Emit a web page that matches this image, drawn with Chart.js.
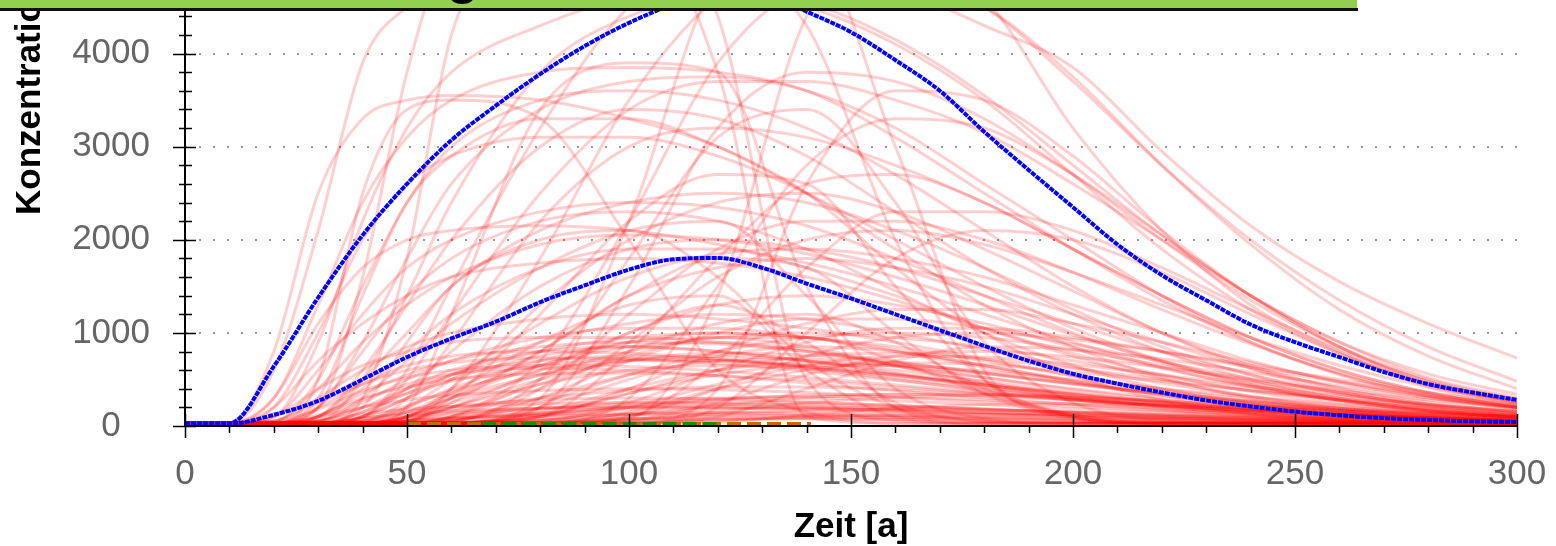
<!DOCTYPE html>
<html>
<head>
<meta charset="utf-8">
<script src="https://cdn.jsdelivr.net/npm/chart.js@4.4.1/dist/chart.umd.min.js"></script>
<style>
  html, body { margin: 0; padding: 0; background: #fff; }
  canvas { display: block; }
</style>
</head>
<body>
<canvas id="chart" width="1556" height="546"></canvas>
<script>
// time grid of the realizations (years)
const redYears = [0, 10, 20, 30, 40, 50, 60, 80, 100, 120, 140, 160, 180, 200, 220, 240, 260, 280, 300];

// time grid of the two statistic curves (years)
const blueYears = [0, 10, 20, 30, 40, 50, 60, 70, 80, 90, 100, 110, 120, 130, 140, 150,
                   160, 170, 180, 190, 200, 210, 220, 230, 240, 250, 260, 270, 280, 290, 300];

// labelled y ticks
const yTickValues = [0, 1000, 2000, 3000, 4000];

// single realizations (concentration)
const realizations = [
  [30,30,600,2100,3900,4500,4750,4900,4950,4950,4900,4700,4300,3850,2950,2150,1550,1100,730],
  [30,30,30,200,1600,3800,5200,5700,5600,3800,100,30,30,30,30,30,30,30,30],
  [30,30,30,30,300,1800,4200,5500,5800,4400,500,60,30,30,30,30,30,30,30],
  [30,30,30,30,30,30,30,30,80,1400,4400,5200,4600,3200,2100,1300,800,420,210],
  [30,30,30,30,30,50,400,1800,3500,4600,5000,4900,4500,3700,2800,2000,1350,850,480],
  [30,30,30,30,30,30,100,700,2200,3900,4700,4800,4500,3750,2800,1950,1250,750,400],
  [30,30,100,900,2200,3200,3800,4300,4600,4700,4550,4150,3550,2800,2050,1400,900,560,340],
  [30,30,30,30,30,30,30,300,2200,4800,5200,3000,600,100,30,30,30,30,30],
  [30,30,30,30,100,600,1500,3200,4500,5000,4300,2000,500,100,30,30,30,30,30],
  [30,30,30,50,500,1400,2400,3800,4400,4600,4500,4100,3500,2700,1900,1250,780,450,260],

  [30,30,300,1300,2400,3100,3500,3800,3850,3800,3600,3100,2500,1900,1350,900,560,330,190],
  [30,30,30,200,900,1800,2600,3400,3700,3750,3600,3200,2600,2000,1400,900,550,320,180],
  [30,30,30,30,100,500,1200,2500,3400,3700,3700,3500,3150,2600,2000,1400,900,520,300],
  [30,30,30,30,30,200,1200,3400,3900,3800,1500,200,30,30,30,30,30,30,30],
  [30,30,50,500,1500,2400,3000,3500,3600,3500,3200,2700,2100,1500,1000,620,370,210,120],
  [30,30,30,30,30,30,30,200,1500,3200,3800,3700,3300,2700,2000,1350,850,500,280],
  [30,30,30,30,30,30,30,30,30,400,2600,3600,3500,2900,2100,1400,850,450,230],
  [30,30,800,2500,3300,3500,3550,3500,3300,3000,2500,1900,1300,850,520,300,170,90,50],
  [30,30,30,100,600,1300,2000,3000,3400,3300,2900,2300,1700,1200,800,500,300,170,90],
  [30,30,30,30,30,30,50,500,1800,3100,3400,2400,900,250,60,30,30,30,30],
  [30,30,200,1000,2000,2600,2900,3100,3100,2900,2500,2000,1500,1050,700,450,280,160,90],
  [30,30,30,30,50,300,900,2200,3000,3200,3100,2800,2400,1900,1400,950,600,360,200],
  [30,30,30,500,2500,3400,3500,3300,2000,600,150,30,30,30,30,30,30,30,30],
  [30,30,30,30,30,30,30,30,300,1500,2800,3300,3200,2700,2050,1400,850,480,250],
  [30,30,30,300,1400,2400,2900,3300,3300,3000,2500,1700,1000,550,280,130,60,30,30],

  [30,30,100,600,1200,1700,2000,2300,2400,2350,2150,1800,1400,1000,680,440,270,160,90],
  [30,30,30,100,500,1000,1500,2100,2400,2500,2400,2100,1700,1250,850,550,340,200,110],
  [30,30,30,30,30,100,400,1300,2000,2400,2500,2300,1900,1450,1000,650,400,230,130],
  [30,30,300,1100,1700,2000,2100,2150,2100,1950,1700,1400,1050,750,500,320,190,110,60],
  [30,30,30,30,30,30,30,100,800,1800,2600,2700,2400,1900,1400,950,600,360,200],
  [30,30,30,50,300,700,1100,1700,2100,2200,1400,400,80,30,30,30,30,30,30],
  [30,30,30,30,30,50,300,1200,2200,2700,2600,1500,500,100,30,30,30,30,30],
  [30,30,50,400,900,1300,1600,1950,2050,2000,1850,1600,1300,980,700,470,300,180,100],
  [30,30,30,30,100,400,800,1500,1900,2000,1900,1700,1400,1100,800,550,360,220,130],
  [30,30,30,30,30,30,50,400,1200,1900,2200,2200,2000,1650,1250,880,570,350,200],
  [30,30,30,200,800,1400,1800,2200,2300,2200,1900,1450,1000,650,400,240,140,80,40],
  [30,30,30,30,30,30,30,30,100,700,1700,2300,2300,2100,1700,1250,820,480,270],
  [30,30,30,30,50,200,500,1100,1600,1850,1900,1800,1600,1300,1000,700,470,300,180],
  [30,30,200,700,1100,1400,1600,1750,1800,1750,1600,1350,1050,780,550,370,240,150,90],
  [30,30,30,30,30,100,300,800,1400,1800,1700,1000,350,80,30,30,30,30,30],
  [30,30,30,30,30,30,30,200,900,1600,2000,2100,1950,1650,1300,950,650,420,260],
  [30,30,30,100,400,800,1200,1700,1900,1900,1750,1500,1200,900,630,420,270,160,90],
  [30,30,30,30,30,30,30,30,30,200,1000,1800,2100,2000,1650,1200,780,450,240],
  [30,30,30,30,200,900,1500,2000,2100,1600,700,200,50,30,30,30,30,30,30],
  [30,30,30,30,30,50,250,800,1400,1700,1800,1700,1500,1200,900,620,410,260,150],
  [30,30,30,30,30,100,350,900,1300,1400,600,100,30,30,30,30,30,30,30],
  [30,30,30,30,30,30,100,500,1000,1300,900,250,50,30,30,30,30,30,30],

  [30,30,50,300,600,850,1000,1150,1200,1150,1050,900,720,540,380,260,170,100,60],
  [30,30,30,30,100,300,550,900,1100,1200,1150,1000,820,630,460,320,210,130,80],
  [30,30,30,30,30,30,50,300,700,1000,1150,1150,1050,880,690,510,360,240,150],
  [30,30,30,50,250,500,700,950,1050,1050,950,800,630,470,330,220,140,85,50],
  [30,30,30,30,30,50,200,600,1000,1300,1400,1300,1100,850,620,430,280,170,100],
  [30,30,100,400,650,800,900,950,950,900,800,660,520,390,280,190,120,75,45],
  [30,30,30,30,30,30,30,100,400,800,1100,1250,1250,1100,900,680,480,320,200],
  [30,30,30,30,50,200,400,700,900,950,850,650,450,290,180,110,60,35,30],
  [30,30,30,30,30,30,100,400,800,1100,1200,900,400,120,30,30,30,30,30],
  [30,30,30,100,350,550,700,850,900,880,800,690,570,450,340,250,170,110,70],
  [30,30,30,30,30,100,250,550,800,950,1000,950,850,700,540,400,280,190,120],
  [30,30,30,30,30,30,30,50,250,600,900,1050,1050,950,800,630,470,330,220],
  [30,30,30,200,450,650,750,800,780,720,630,520,410,310,225,160,110,70,45],
  [30,30,30,30,30,30,30,200,500,750,850,800,650,480,330,220,140,85,50],
  [30,30,30,30,100,300,500,750,850,800,700,560,420,300,210,140,90,55,30],
  [30,30,30,30,30,30,30,30,100,400,750,950,1000,930,800,650,500,360,230],
  [30,30,30,50,200,400,550,700,750,720,650,550,440,340,250,180,120,80,50],
  [30,30,30,30,30,50,150,450,750,950,950,700,350,120,30,30,30,30,30],
  [30,30,30,30,30,30,30,100,350,600,750,780,720,620,500,380,280,190,120],
  [30,30,50,250,450,600,680,730,720,670,590,490,390,300,220,150,100,65,40],
  [30,30,30,30,50,150,300,550,700,750,700,600,480,360,260,180,120,75,45],
  [30,30,30,30,30,30,30,30,30,100,400,700,850,820,720,580,430,300,200],
  [30,30,30,30,30,100,300,650,900,1000,950,820,650,490,350,240,160,100,60],
  [30,30,30,30,30,30,50,250,550,800,950,1000,950,820,650,480,340,230,150],
  [30,30,30,30,150,350,550,800,950,1000,950,850,700,540,400,280,190,120,75],
  [30,30,30,60,200,350,480,650,720,700,640,550,450,350,260,190,135,95,65],
  [30,30,30,30,30,80,200,450,600,650,620,540,440,340,250,180,125,85,55],
  [30,30,30,30,30,30,30,150,400,600,680,650,560,450,350,260,190,135,95],
  [30,30,30,120,300,420,500,560,570,540,490,420,350,280,215,160,118,85,60],
  [30,30,30,30,80,220,380,600,700,700,620,500,380,280,200,140,95,65,45],
  [30,30,30,30,30,30,80,300,550,700,720,640,520,400,300,220,155,108,75],
  [30,30,30,30,30,30,30,30,150,400,600,680,660,580,480,380,290,215,155],
  [30,30,40,180,380,520,600,650,640,590,520,440,360,285,220,165,122,88,62],
  [30,30,30,30,30,150,350,650,850,900,820,650,470,320,210,135,85,55,35],
  [30,30,30,30,30,30,30,120,350,550,650,650,590,500,400,310,230,165,115],
  [30,30,30,30,150,400,600,800,850,800,700,570,440,330,240,170,120,80,55],
  [30,30,30,30,30,30,30,60,200,450,650,750,740,660,550,430,320,230,160],
  [30,30,30,30,30,70,200,500,700,780,760,680,570,460,360,270,200,145,100],
  [30,30,30,30,30,30,30,30,60,250,550,750,800,740,630,500,380,280,200],
  [30,30,30,90,280,450,560,620,600,540,460,380,300,230,170,125,90,64,45],

  [30,30,30,100,200,280,330,380,400,390,360,310,260,210,160,120,85,60,40],
  [30,30,30,30,30,100,180,300,380,420,420,390,340,280,220,170,125,90,60],
  [30,30,30,30,30,30,30,100,200,280,330,340,320,280,230,180,135,100,70],
  [30,30,30,30,80,150,210,280,300,290,260,220,180,140,105,75,55,38,30],
  [30,30,30,30,30,30,80,180,260,300,300,270,230,185,145,110,80,58,40],
  [30,30,30,60,130,180,210,240,250,240,215,185,150,120,90,68,50,35,30],
  [30,30,30,30,30,30,30,30,120,220,300,340,340,310,265,215,170,130,95],
  [30,30,30,30,30,60,110,190,240,260,250,220,185,150,115,88,65,47,33],
  [30,30,30,30,30,30,30,120,220,290,320,310,280,235,190,150,112,82,58],
  [30,30,30,30,50,100,140,190,210,210,195,170,140,112,87,65,48,35,30],
  [30,30,30,30,30,30,60,140,200,230,230,210,180,145,112,85,62,45,32],
  [30,30,30,30,30,30,30,30,50,150,250,310,330,310,270,225,180,140,105],
  [30,30,30,40,90,130,160,190,200,195,180,155,128,102,80,60,45,33,30],
  [30,30,30,30,30,40,80,140,180,195,190,170,145,118,92,70,52,38,30],
  [30,30,30,30,30,30,30,60,130,180,200,195,175,150,122,96,74,55,40],
  [30,30,30,30,30,30,30,80,120,145,150,140,122,102,82,64,49,36,30],
  [30,30,30,30,30,30,30,30,70,130,170,180,170,150,125,100,78,59,44],
  [30,30,30,30,30,60,85,110,120,118,108,94,78,63,50,38,30,30,30],
  [30,30,30,30,30,30,30,30,30,40,120,190,230,240,225,195,160,128,100],
  [30,30,30,30,30,50,80,120,140,140,128,110,90,72,56,43,32,30,30],
  [30,30,30,30,30,30,30,40,80,105,115,110,98,83,68,54,42,32,30],
  [30,30,30,30,30,30,30,30,40,70,90,95,90,80,68,56,45,35,30],
  [30,30,30,30,30,30,40,65,80,85,80,70,58,47,37,30,30,30,30],
  [30,30,30,30,30,30,30,30,30,60,100,120,125,118,104,88,72,58,46],
  [30,30,30,30,30,30,30,40,60,72,75,70,62,52,42,34,30,30,30]
];

// statistic curves (blue, dotted)
const meanLine = [25,25,120,270,500,740,940,1120,1330,1510,1680,1790,1805,1700,1530,1370,
                  1200,1030,860,700,560,455,360,275,210,155,115,85,65,50,43];
const upperLine = [30,30,640,1380,2050,2600,3070,3440,3780,4080,4330,4530,4680,4650,4450,4230,
                   3930,3600,3160,2750,2350,1950,1620,1350,1090,900,740,580,450,360,280];

// short dashed lines lying on the base line
const orangeYears = [50, 141];
const orangeLevel = [25, 25];
const greenYears = [67, 120];
const greenLevel = [25, 25];

const xTitle = 'Zeit [a]';
const yTitle = 'Konzentration [µg/l]';

function toPoints(xs, ys) {
    return ys.map((v, i) => ({ x: xs[i], y: v }));
}

const datasets = [];

datasets.push({
    data: toPoints(blueYears, upperLine),
    borderColor: '#0000ff',
    borderWidth: 4,
    borderDash: [5, 1],
    cubicInterpolationMode: 'monotone',
    order: 0
});
datasets.push({
    data: toPoints(blueYears, meanLine),
    borderColor: '#0000ff',
    borderWidth: 4,
    borderDash: [5, 1],
    cubicInterpolationMode: 'monotone',
    order: 0
});
datasets.push({
    data: toPoints(greenYears, greenLevel),
    borderColor: '#1f8a00',
    borderWidth: 3.5,
    borderDash: [14, 6],
    order: 1
});
datasets.push({
    data: toPoints(orangeYears, orangeLevel),
    borderColor: '#c46a00',
    borderWidth: 3.5,
    borderDash: [14, 6],
    order: 2
});

realizations.forEach(vals => {
    datasets.push({
        data: toPoints(redYears, vals),
        borderColor: 'rgba(255, 0, 0, 0.19)',
        borderWidth: 3,
        cubicInterpolationMode: 'monotone',
        order: 3
    });
});

// axis lines with major and minor ticks, drawn on top of the curves
const axesPlugin = {
    id: 'axesPlugin',
    afterDatasetsDraw(chart) {
        const { ctx, chartArea: a, scales: { x, y } } = chart;
        ctx.save();
        ctx.strokeStyle = '#000';
        ctx.lineWidth = 2;
        ctx.beginPath();
        ctx.moveTo(a.left, a.top);
        ctx.lineTo(a.left, a.bottom + 1);
        ctx.moveTo(a.left - 1, a.bottom);
        ctx.lineTo(a.right, a.bottom);
        ctx.stroke();

        ctx.lineWidth = 1.5;
        ctx.beginPath();
        for (let v = 0; v <= 300; v += 10) {
            const px = Math.round(x.getPixelForValue(v)) + 0.5;
            if (v % 50 === 0) {
                ctx.moveTo(px, a.bottom - 12);
                ctx.lineTo(px, a.bottom + 12);
            } else {
                ctx.moveTo(px, a.bottom);
                ctx.lineTo(px, a.bottom + 7);
            }
        }
        for (let v = 0; v <= 4400; v += 200) {
            const py = Math.round(y.getPixelForValue(v)) + 0.5;
            if (v % 1000 === 0) {
                ctx.moveTo(a.left - 12, py);
                ctx.lineTo(a.left + 11, py);
            } else {
                ctx.moveTo(a.left - 6, py);
                ctx.lineTo(a.left + 7, py);
            }
        }
        ctx.stroke();
        ctx.restore();
    },
    afterDraw(chart) {
        const { ctx } = chart;
        ctx.save();
        // rotated y title
        ctx.fillStyle = '#000';
        ctx.font = 'bold 35px "Liberation Sans", Arial, sans-serif';
        ctx.translate(40, 215);
        ctx.rotate(-Math.PI / 2);
        ctx.textAlign = 'left';
        ctx.textBaseline = 'alphabetic';
        ctx.fillText(yTitle, 0, 0);
        ctx.restore();

        // green title bar cut off by the top of the picture
        ctx.save();
        ctx.fillStyle = '#92d050';
        ctx.fillRect(0, 0, 1357, 8);
        ctx.fillStyle = '#111';
        ctx.fillRect(0, 8, 1358, 3);
        ctx.fillStyle = '#000';
        ctx.font = '60px "Liberation Sans", Arial, sans-serif';
        ctx.textBaseline = 'alphabetic';
        ctx.fillText('g', 446, -8);
        ctx.restore();
    }
};

const tickFont = { family: '"Liberation Sans", Arial, sans-serif', size: 35 };

new Chart(document.getElementById('chart'), {
    type: 'line',
    data: { datasets: datasets },
    options: {
        responsive: false,
        devicePixelRatio: 1,
        animation: false,
        events: [],
        layout: { padding: { top: 7, right: 39, left: 0, bottom: 0 } },
        elements: { point: { radius: 0 }, line: { tension: 0 } },
        plugins: { legend: { display: false }, tooltip: { enabled: false } },
        scales: {
            x: {
                type: 'linear',
                min: 0,
                max: 300,
                grid: { display: false, drawTicks: false },
                border: { display: false },
                ticks: {
                    stepSize: 50,
                    autoSkip: false,
                    maxRotation: 0,
                    padding: 27,
                    color: '#666',
                    font: tickFont,
                    callback: v => String(v)
                },
                title: {
                    display: true,
                    text: xTitle,
                    color: '#000',
                    font: { family: '"Liberation Sans", Arial, sans-serif', size: 35, weight: 'bold', lineHeight: 1.05 },
                    padding: 0
                },
                afterFit: s => {
                    s.height = 120;
                    s.paddingLeft = 0;
                    s.paddingRight = 0;
                }
            },
            y: {
                type: 'linear',
                min: 0,
                max: 4500,
                afterBuildTicks: s => {
                    s.ticks = yTickValues.map(v => ({ value: v }));
                },
                grid: {
                    drawTicks: false,
                    color: ctx => (ctx.tick && ctx.tick.value > 0) ? '#999' : 'rgba(0,0,0,0)',
                    lineWidth: 2
                },
                border: { display: false, dash: [2, 12] },
                ticks: {
                    padding: 35,
                    crossAlign: 'center',
                    color: '#666',
                    font: tickFont,
                    callback: v => String(v)
                },
                afterFit: s => {
                    s.width = 185;
                    s.paddingTop = 0;
                    s.paddingBottom = 0;
                }
            }
        }
    },
    plugins: [axesPlugin]
});
</script>
</body>
</html>
